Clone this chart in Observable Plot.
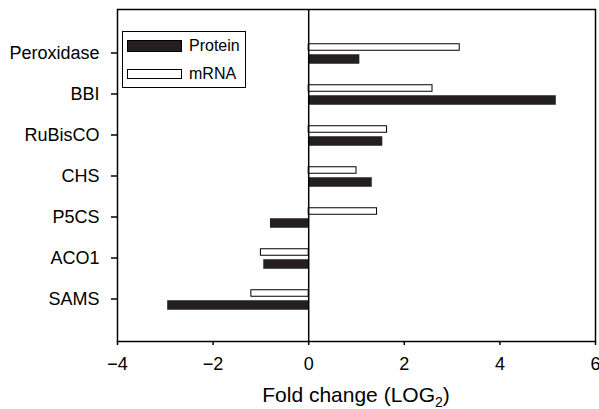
<!DOCTYPE html>
<html>
<head>
<meta charset="utf-8">
<script src="https://cdn.jsdelivr.net/npm/d3@7"></script>
<script src="https://cdn.jsdelivr.net/npm/@observablehq/plot@0.6"></script>
<style>
  html, body { margin: 0; padding: 0; background: white; }
  #wrap { position: relative; width: 599px; height: 409px; font-family: "Liberation Sans", Arial, Helvetica, sans-serif; }
  #legend { position: absolute; left: 122px; top: 31px; width: 124px; height: 57px; border: 1px solid #000; background: white; box-sizing: border-box; }
  .sw { position: absolute; left: 4px; width: 55px; box-sizing: border-box; }
  .lt { position: absolute; left: 66px; font-size: 16px; line-height: 16px; color: #000; }
</style>
</head>
<body>
<div id="wrap"></div>
<script>
const categories = ["Peroxidase", "BBI", "RuBisCO", "CHS", "P5CS", "ACO1", "SAMS"];
const proteinValues = [1.07, 5.18, 1.55, 1.33, -0.80, -0.94, -2.95];
const mrnaValues = [3.16, 2.59, 1.64, 1.00, 1.43, -1.00, -1.20];
const xTicks = [-4, -2, 0, 2, 4, 6];
const seriesNames = ["Protein", "mRNA"];
const seriesFills = ["#231f20", "#ffffff"];

const proteinData = categories.map((c, i) => ({category: c, value: proteinValues[i]}));
const mrnaData = categories.map((c, i) => ({category: c, value: mrnaValues[i]}));

const chart = Plot.plot({
  width: 599,
  height: 409,
  marginLeft: 117,
  marginRight: 4,
  marginTop: 9,
  marginBottom: 68,
  style: {fontFamily: '"Liberation Sans", Arial, Helvetica, sans-serif', fontSize: "18px", color: "#000", background: "white", overflow: "visible"},
  x: {domain: [-4, 6]},
  y: {domain: categories, type: "band", paddingInner: 0, paddingOuter: 0.5},
  marks: [
    Plot.barX(mrnaData, {x: "value", y: "category", fill: seriesFills[1], stroke: "#000", strokeWidth: 1, insetTop: 11.75, insetBottom: 22.75}),
    Plot.barX(proteinData, {x: "value", y: "category", fill: seriesFills[0], insetTop: 22.25, insetBottom: 9.25}),
    Plot.ruleX([0], {stroke: "#000", strokeWidth: 1.5}),
    Plot.frame({stroke: "#000", strokeWidth: 1.5}),
    Plot.axisX({anchor: "bottom", ticks: xTicks, tickSize: 4, tickPadding: 12, strokeWidth: 1.5, label: null, fontSize: 18}),
    Plot.axisY({anchor: "left", tickSize: 6, tickPadding: 12, strokeWidth: 1.5, label: null, fontSize: 18})
  ]
});

const wrap = document.getElementById("wrap");
wrap.appendChild(chart);

// axis title with subscript
const xr = chart.scale("x").range;
const cx = (xr[0] + xr[1]) / 2;
const t = d3.select(chart).append("text")
  .attr("x", cx)
  .attr("y", 402)
  .attr("text-anchor", "middle")
  .attr("font-size", 21)
  .attr("fill", "#000");
t.append("tspan").text("Fold change (LOG");
t.append("tspan").attr("font-size", 14).attr("dy", 5).text("2");
t.append("tspan").attr("dy", -5).text(")");

// legend
const legend = document.createElement("div");
legend.id = "legend";
const tops = [8, 37];
const hs = [12, 10];
seriesNames.forEach((name, i) => {
  const sw = document.createElement("div");
  sw.className = "sw";
  sw.style.top = tops[i] + "px";
  sw.style.height = hs[i] + "px";
  sw.style.background = seriesFills[i];
  sw.style.border = "1px solid #000";
  legend.appendChild(sw);
  const lt = document.createElement("div");
  lt.className = "lt";
  lt.style.top = (tops[i] + hs[i] / 2 - 8) + "px";
  lt.textContent = name;
  legend.appendChild(lt);
});
wrap.appendChild(legend);
</script>
</body>
</html>
